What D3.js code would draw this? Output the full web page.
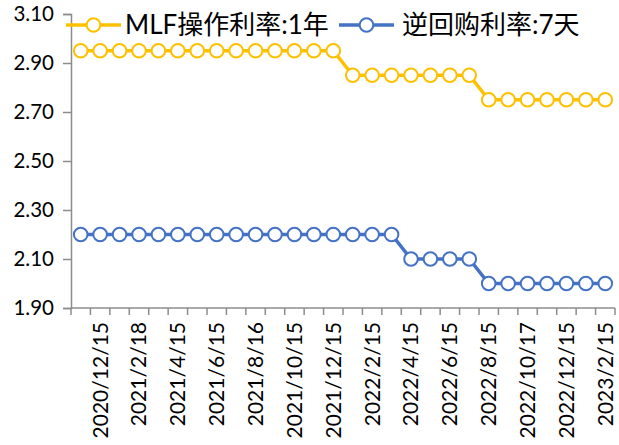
<!DOCTYPE html>
<html><head><meta charset="utf-8">
<script src="https://cdn.jsdelivr.net/npm/d3@7"></script>
<style>
html,body{margin:0;padding:0;background:#fff;}
svg{display:block;}
</style></head>
<body>
<svg id="chart" width="619" height="445"></svg>
<script>
const dates = ["2020/12/15","2021/1/15","2021/2/18","2021/3/15","2021/4/15","2021/5/17","2021/6/15","2021/7/15","2021/8/16","2021/9/15","2021/10/15","2021/11/15","2021/12/15","2022/1/17","2022/2/15","2022/3/15","2022/4/15","2022/5/16","2022/6/15","2022/7/15","2022/8/15","2022/9/15","2022/10/17","2022/11/15","2022/12/15","2023/1/17","2023/2/15","2023/3/15"];
const mlf = [2.95,2.95,2.95,2.95,2.95,2.95,2.95,2.95,2.95,2.95,2.95,2.95,2.95,2.95,2.85,2.85,2.85,2.85,2.85,2.85,2.85,2.75,2.75,2.75,2.75,2.75,2.75,2.75];
const repo = [2.20,2.20,2.20,2.20,2.20,2.20,2.20,2.20,2.20,2.20,2.20,2.20,2.20,2.20,2.20,2.20,2.20,2.10,2.10,2.10,2.10,2.00,2.00,2.00,2.00,2.00,2.00,2.00];
const yTicks = [1.90,2.10,2.30,2.50,2.70,2.90,3.10];
const seriesNames = ["MLF操作利率:1年","逆回购利率:7天"];
const colors = ["#FFC000","#4472C4"];

const svg = d3.select("#chart");
const mLeft = 71, mRight = 615, mTop = 14, mBottom = 308;
const x = d3.scaleBand().domain(dates).range([mLeft, mRight]).padding(0);
const y = d3.scaleLinear().domain([1.9, 3.1]).range([mBottom, mTop]);
const cx = d => x(d) + x.bandwidth()/2;
const tickFont = "Lato, 'Noto Sans CJK SC', sans-serif";

// y axis
const yAxis = svg.append("g").attr("transform", `translate(${mLeft},0)`)
  .call(d3.axisLeft(y).tickValues(yTicks).tickFormat(d3.format(".2f")).tickSize(8).tickPadding(9));
yAxis.select(".domain").attr("stroke", "#8c8c8c").attr("stroke-width", 1.5);
yAxis.selectAll(".tick line").attr("stroke", "#8c8c8c").attr("stroke-width", 1.5);
yAxis.selectAll(".tick text").attr("font-family", tickFont).attr("font-size", 20.5).attr("fill", "#000");

// x axis: ticks at category boundaries
const xg = svg.append("g");
xg.append("line").attr("x1", mLeft).attr("x2", mRight).attr("y1", mBottom).attr("y2", mBottom)
  .attr("stroke", "#8c8c8c").attr("stroke-width", 1.5);
xg.selectAll("line.tk").data(dates.concat(["end"])).join("line").attr("class","tk")
  .attr("x1", (d,i) => mLeft + i*x.step()).attr("x2", (d,i) => mLeft + i*x.step())
  .attr("y1", mBottom).attr("y2", mBottom + 7).attr("stroke", "#8c8c8c").attr("stroke-width", 1.5);
xg.selectAll("text").data(dates.filter((d,i) => i % 2 === 0)).join("text")
  .attr("transform", d => `translate(${cx(d) + x.step()},${mBottom + 14}) rotate(-90)`)
  .attr("text-anchor", "end").attr("dy", "0.35em")
  .attr("font-family", tickFont).attr("font-size", 21).attr("fill", "#000")
  .text(d => d);

// series
const line = d3.line().x((d,i) => cx(dates[i])).y(d => y(d));
[mlf, repo].forEach((s, k) => {
  svg.append("path").datum(s).attr("d", line).attr("fill", "none")
    .attr("stroke", colors[k]).attr("stroke-width", 3.5);
  svg.append("g").selectAll("circle").data(s).join("circle")
    .attr("cx", (d,i) => cx(dates[i])).attr("cy", d => y(d)).attr("r", 6.8)
    .attr("fill", "#fff").attr("stroke", colors[k]).attr("stroke-width", 2);
});

// legend
const legendFont = "Lato, 'Noto Sans CJK SC', sans-serif";
const lg = svg.append("g");
const legendItems = [{x: 66, tx: 125}, {x: 339, tx: 402}];
legendItems.forEach((it, k) => {
  const ly = 25;
  lg.append("line").attr("x1", it.x).attr("x2", it.x + 55).attr("y1", ly).attr("y2", ly)
    .attr("stroke", colors[k]).attr("stroke-width", 3.5);
  lg.append("circle").attr("cx", it.x + 27.5).attr("cy", ly).attr("r", 6.8)
    .attr("fill", "#fff").attr("stroke", colors[k]).attr("stroke-width", 2);
  lg.append("text").attr("x", it.tx).attr("y", ly).attr("dy", "0.35em")
    .attr("font-family", legendFont).attr("font-size", 26).attr("fill", "#000")
    .text(seriesNames[k]);
});
</script>
</body></html>
